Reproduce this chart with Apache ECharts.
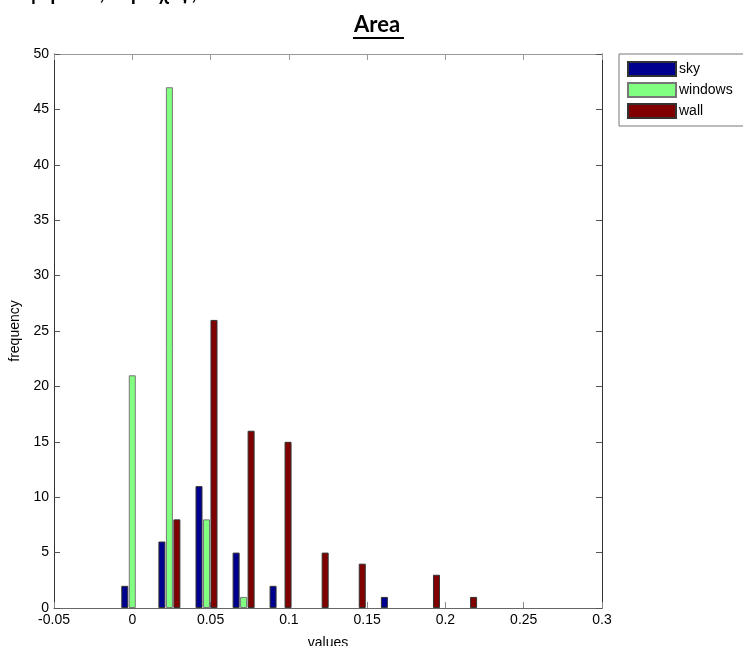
<!DOCTYPE html>
<html>
<head>
<meta charset="utf-8">
<script src="https://cdn.jsdelivr.net/npm/echarts@6/dist/echarts.min.js"></script>
<style>
  html, body { margin: 0; padding: 0; background: #fff; }
  #chart { width: 743px; height: 646px; }
</style>
</head>
<body>
<div id="chart"></div>
<script>
// bin centres
const binCenters = [0, 0.0237, 0.0474, 0.0711, 0.0947, 0.1184, 0.1421, 0.1658, 0.1895, 0.2132];
const sky = [2, 6, 11, 5, 2, 0, 0, 1, 0, 0];
const windows = [21, 47, 8, 1, 0, 0, 0, 0, 0, 0];
const wall = [0, 8, 26, 16, 15, 5, 4, 0, 3, 1];

const seriesNames = ['sky', 'windows', 'wall'];
const seriesColors = ['#00008f', '#80ff80', '#800000'];

const font = 'Liberation Sans, Arial, sans-serif';

// empty bins draw nothing
const pairs = (vals) => vals.map((v, i) => [binCenters[i], v]).filter((p) => p[1] > 0);

const chart = echarts.init(document.getElementById('chart'));

const tickFmt = (v) => String(+v.toFixed(2));

chart.setOption({
  animation: false,
  backgroundColor: '#fff',
  grid: { left: 54, right: 141, top: 54, bottom: 38, containLabel: false, outerBoundsMode: 'none' },
  legend: {
    orient: 'vertical',
    left: 619,
    top: 54,
    padding: [7, 40, 7, 8],
    borderColor: '#777',
    borderWidth: 1,
    icon: 'rect',
    itemWidth: 48,
    itemHeight: 14,
    itemGap: 5,
    textStyle: { fontFamily: font, fontSize: 14, color: '#000', padding: [0, 0, 0, -2] },
    data: seriesNames
  },
  xAxis: [
    {
      type: 'value', position: 'bottom',
      min: -0.05, max: 0.3, interval: 0.05,
      name: 'values', nameLocation: 'middle', nameGap: 28,
      nameTextStyle: { fontFamily: font, fontSize: 14, color: '#000' },
      axisLine: { show: true, onZero: false, lineStyle: { color: '#666' } },
      axisTick: { inside: true, length: 6, lineStyle: { color: '#888' } },
      axisLabel: { fontFamily: font, fontSize: 14, color: '#000', margin: 5, formatter: tickFmt },
      splitLine: { show: false }
    },
    {
      type: 'value', position: 'top',
      min: -0.05, max: 0.3, interval: 0.05,
      axisLine: { show: true, onZero: false, lineStyle: { color: '#999' } },
      axisTick: { inside: true, length: 6, lineStyle: { color: '#999' } },
      axisLabel: { show: false },
      splitLine: { show: false }
    }
  ],
  yAxis: [
    {
      type: 'value', position: 'left',
      min: 0, max: 50, interval: 5,
      name: 'frequency', nameLocation: 'middle', nameGap: 29,
      nameTextStyle: { fontFamily: font, fontSize: 14, color: '#000' },
      axisLine: { show: true, onZero: false, lineStyle: { color: '#333' } },
      axisTick: { inside: true, length: 6, lineStyle: { color: '#555' } },
      axisLabel: { fontFamily: font, fontSize: 14, color: '#000', margin: 5 },
      splitLine: { show: false }
    },
    {
      type: 'value', position: 'right',
      min: 0, max: 50, interval: 5,
      axisLine: { show: true, onZero: false, lineStyle: { color: '#333' } },
      axisTick: { inside: true, length: 6, lineStyle: { color: '#555' } },
      axisLabel: { show: false },
      splitLine: { show: false }
    }
  ],
  series: [sky, windows, wall].map((vals, k) => ({
    name: seriesNames[k],
    type: 'bar',
    xAxisIndex: 0,
    yAxisIndex: 0,
    barWidth: 7,
    barGap: '7%',
    data: pairs(vals),
    itemStyle: { color: seriesColors[k], borderColor: k === 1 ? '#777' : '#333', borderWidth: 1 }
  })),
  graphic: [
    {
      type: 'text', left: -3, top: -16,
      style: { text: 'διαφέρουν , περιοχές ,', font: 'bold 20px Lato, sans-serif', fill: '#000' }
    },
    {
      type: 'text', left: 354, top: 14,
      style: { text: 'Area', font: 'bold 22px Lato, sans-serif', fill: '#000' }
    },
    {
      type: 'rect', shape: { x: 353, y: 37, width: 51, height: 2 },
      style: { fill: '#000' }
    }
  ]
});
</script>
</body>
</html>
